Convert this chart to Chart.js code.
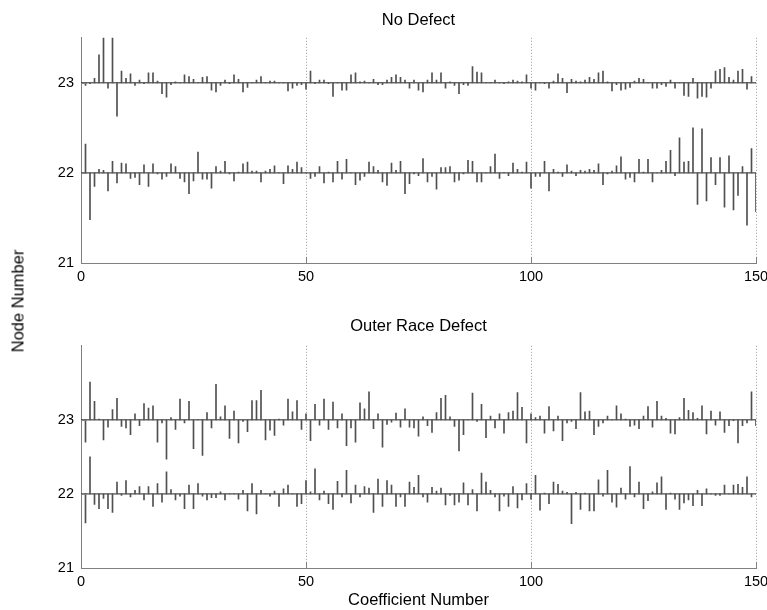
<!DOCTYPE html>
<html>
<head>
<meta charset="utf-8">
<script src="https://cdn.jsdelivr.net/npm/chart.js@4/dist/chart.umd.min.js"></script>
<style>
  body { margin: 0; background: #fff; width: 767px; height: 610px; position: relative; overflow: hidden; }
  canvas { position: absolute; left: 0; }
  #top { top: 0; }
  #bottom { top: 305px; }
  #ylabel {
    position: absolute; left: 18px; top: 301px;
    transform: translate(-50%, -50%) rotate(-90deg);
    font: 16.5px "Liberation Sans", Arial, sans-serif; color: #000; white-space: nowrap;
  }
</style>
</head>
<body>
<canvas id="top" width="767" height="290"></canvas>
<canvas id="bottom" width="767" height="305"></canvas>
<div id="ylabel">Node Number</div>
<script>
// coefficient index 1..150
const coefficients = Array.from({ length: 150 }, (_, i) => i + 1);
const xTicks = [0, 50, 100, 150];
const yTicks = [21, 22, 23];

// stem offsets from each node's baseline (node 23 and node 22)
const noDefect23 = [
  -0.03,-0.01,0.05,0.31,0.6,-0.06,0.6,-0.37,0.13,0.05,
  0.1,-0.03,0.03,-0.01,0.11,0.11,0.02,-0.12,-0.16,-0.02,
  0.01,0,0.09,0.07,0.04,0,0.06,0.07,-0.08,-0.1,
  -0.03,0.03,-0.01,0.09,0.04,-0.1,-0.05,0,0.03,0.07,
  0,0.02,0.02,0,0,-0.09,-0.06,-0.03,-0.02,-0.07,
  0.13,-0.01,0.03,0.03,-0.01,-0.15,0,-0.08,-0.08,0.09,
  0.11,0.01,0.02,0,0.04,-0.02,-0.02,0.03,0.06,0.09,
  0.06,0.03,-0.06,0.03,-0.08,-0.1,0.03,0.11,0.03,0.11,
  -0.06,0.01,-0.03,-0.12,-0.02,-0.03,0.18,0.12,0.11,0,
  0,0.03,0,-0.01,0.01,0.03,0.02,0.01,0.09,-0.06,
  -0.08,0,-0.01,-0.06,0.02,0.1,0.05,-0.11,0.04,0.02,
  0.01,0.03,0.06,0.04,0.11,0.13,0.01,-0.09,-0.02,-0.08,
  -0.07,-0.05,0.02,0.05,0.04,0,-0.06,-0.06,-0.02,-0.04,
  0.03,-0.06,0,-0.14,-0.15,0.05,-0.17,-0.15,-0.16,-0.06,
  0.13,0.15,0.17,0.06,0.03,0.13,0.15,-0.07,0.07,0
];
const noDefect22 = [
  0.32,-0.52,-0.15,0.04,0.03,-0.2,0.13,-0.11,0.11,0.1,
  -0.06,-0.05,-0.13,0.09,-0.15,0.1,-0.01,-0.07,-0.04,0.1,
  0.07,-0.06,-0.1,-0.23,-0.09,0.23,-0.07,-0.07,-0.17,0.07,
  0.02,0.13,-0.01,-0.09,0.01,0.1,0.12,0.02,0.02,-0.1,
  0.02,0.04,0.08,0,-0.12,0.08,0.04,0.12,0.06,0,
  -0.06,-0.04,0.07,-0.11,0.01,-0.1,0.13,-0.07,0.15,0,
  -0.13,-0.08,-0.04,0.12,0.07,0.03,-0.1,-0.14,0.11,0.03,
  0.13,-0.23,-0.12,-0.01,-0.03,0.16,-0.1,-0.04,-0.18,0.06,
  0.06,0.07,-0.1,-0.08,-0.01,0.14,0.13,-0.1,-0.1,0,
  0.07,0.21,-0.06,0,-0.03,0.11,0.04,0.01,0.12,-0.17,
  -0.04,-0.04,0.13,-0.2,0.04,0.01,-0.04,0.09,0.02,-0.03,
  0.03,0.02,0.04,0.03,0.1,-0.13,-0.01,0.02,0.08,0.18,
  -0.07,-0.05,-0.1,0.15,0.01,0.15,-0.1,0,0.03,0.13,
  0.25,-0.03,0.39,0.12,0.13,0.5,-0.35,0.49,-0.31,0.17,
  -0.13,0.17,-0.38,0.19,-0.41,-0.25,0.07,-0.58,0.27,-0.43
];
const outer23 = [
  -0.3,0.51,0.25,0.01,-0.27,-0.1,0.14,0.29,-0.09,-0.11,
  -0.2,0.08,-0.08,0.22,0.16,0.19,-0.3,-0.04,-0.53,0.03,
  -0.13,0.28,-0.04,0.25,-0.39,0,-0.48,0.1,-0.11,0.48,
  0.04,0.19,-0.25,0.12,-0.31,-0.02,-0.16,0.26,0.26,0.4,
  -0.27,-0.14,-0.21,0.01,-0.07,0.28,0.11,0.26,-0.13,0.08,
  -0.28,0.21,-0.07,0.28,-0.13,0.24,-0.11,0.08,-0.35,-0.11,
  -0.3,0.23,0.15,0.38,-0.12,0.08,-0.37,-0.06,-0.03,0.09,
  -0.1,0.15,-0.1,-0.11,-0.22,0.04,-0.08,-0.17,0.1,0.29,
  0.33,0.04,-0.09,-0.42,-0.2,0,0.36,-0.02,0.21,-0.24,
  0.05,-0.11,0.08,-0.18,0.1,0.12,0.37,0.17,-0.31,0.08,
  0.03,0.05,-0.18,0.18,-0.15,0.05,-0.28,-0.04,-0.02,-0.12,
  0.37,0.11,0.12,-0.2,-0.09,-0.04,0.05,0,0.19,0.08,
  0.01,-0.09,-0.07,-0.12,0.05,0.18,-0.1,0.25,0.05,0.02,
  -0.18,-0.19,0.03,0.29,0.13,0.1,0.02,0.19,-0.19,0.12,
  -0.07,0.11,-0.17,-0.08,-0.01,-0.31,-0.08,-0.04,0.38,-0.08
];
const outer22 = [
  -0.39,0.5,-0.14,-0.2,-0.06,-0.2,-0.25,0.16,-0.02,0.18,
  -0.04,0.05,0.1,-0.08,0.1,-0.17,0.14,-0.11,0.3,0.06,
  -0.08,-0.03,-0.2,0.12,-0.2,0.14,-0.03,-0.08,-0.05,-0.05,
  0.03,-0.08,0,0,-0.07,0.05,-0.23,0.14,-0.27,0.05,
  0,-0.03,0.04,-0.17,0.07,0.12,0,-0.17,-0.13,0.18,
  0.03,0.34,-0.08,0.04,-0.13,-0.21,0.17,-0.04,0.32,-0.12,
  0.12,-0.04,0.1,0.08,-0.25,0.2,-0.17,0.18,0.12,-0.17,
  -0.04,-0.17,0.16,0.09,0.25,-0.04,-0.11,0.09,0.04,0.08,
  -0.15,-0.02,-0.15,-0.11,0.15,-0.15,0.06,-0.23,0.28,0.16,
  0.05,-0.04,-0.23,-0.03,-0.17,0.1,-0.19,-0.08,0.14,-0.07,
  0.25,-0.22,0.01,-0.13,0.16,0.13,0.04,0.02,-0.4,0.02,
  -0.21,0.01,-0.23,-0.23,0.19,-0.03,0.32,-0.11,-0.18,0.08,
  -0.07,0.37,-0.04,0.16,-0.2,-0.09,0.03,0.15,0.23,-0.21,
  0.01,-0.07,-0.21,-0.12,-0.08,-0.16,0.05,-0.16,0.07,0,
  -0.02,-0.02,0.12,0,0.12,0.13,0.09,0.23,-0.04,0
];

const family = '"Liberation Sans", Arial, sans-serif';
const tickFont = { family, size: 14.5 };
const labelFont = { family, size: 16.5, weight: 'normal' };
const axisGray = '#808080';
const stemColor = '#505050';

// MATLAB style tick marks pointing into the plot
const innerTicks = {
  id: 'innerTicks',
  afterDatasetsDraw(chart) {
    const { ctx, chartArea: a, scales: { x, y } } = chart;
    ctx.save();
    ctx.strokeStyle = axisGray;
    ctx.lineWidth = 1;
    ctx.beginPath();
    xTicks.forEach(v => {
      const px = Math.round(x.getPixelForValue(v)) + 0.5;
      ctx.moveTo(px, a.bottom);
      ctx.lineTo(px, a.bottom - 6);
    });
    yTicks.forEach(v => {
      const py = Math.round(y.getPixelForValue(v)) + 0.5;
      ctx.moveTo(a.left, py);
      ctx.lineTo(a.left + 6, py);
    });
    ctx.stroke();
    ctx.restore();
  }
};

function stems(base, offsets) {
  return {
    type: 'bar',
    data: coefficients.map((c, i) => ({ x: c, y: [base, base + offsets[i]] })),
    backgroundColor: stemColor,
    borderWidth: 0,
    barThickness: 1,
    grouped: false
  };
}

function baseline(base) {
  return {
    type: 'line',
    data: [{ x: xTicks[0], y: base }, { x: xTicks[xTicks.length - 1], y: base }],
    borderColor: '#222',
    borderWidth: 1,
    pointRadius: 0
  };
}

function makeChart(id, title, rows, yMax, opts) {
  return new Chart(document.getElementById(id), {
    type: 'bar',
    data: {
      datasets: [
        stems(23, rows[23]),
        stems(22, rows[22]),
        baseline(23),
        baseline(22)
      ]
    },
    options: {
      responsive: false,
      animation: false,
      layout: { padding: 0 },
      plugins: {
        legend: { display: false },
        tooltip: { enabled: false },
        title: {
          display: true,
          text: title,
          fullSize: false,
          color: '#000',
          font: labelFont,
          padding: opts.titlePadding
        }
      },
      scales: {
        x: {
          type: 'linear',
          min: 0,
          max: 150,
          offset: false,
          afterBuildTicks: s => { s.ticks = xTicks.map(v => ({ value: v })); },
          afterFit: s => {
            s.height = opts.xHeight;
            s.paddingLeft = 0;
            s.paddingRight = 11; // let "150" run to the page edge like the original
          },
          ticks: { color: '#000', font: tickFont, padding: 5, maxRotation: 0 },
          grid: {
            offset: false,
            drawTicks: false,
            color: ctx => ctx.tick && ctx.tick.value === 0 ? 'rgba(0,0,0,0)' : '#9a9a9a'
          },
          // dash applies to the vertical grid lines, the axis line stays solid
          border: { color: axisGray, dash: [1, 2] },
          title: {
            display: !!opts.xTitle,
            text: opts.xTitle || '',
            color: '#000',
            font: labelFont,
            padding: 0
          }
        },
        y: {
          min: 21,
          max: yMax,
          afterBuildTicks: s => { s.ticks = yTicks.map(v => ({ value: v })); },
          afterFit: s => { s.width = 81; },
          ticks: { color: '#000', font: tickFont, padding: 7 },
          grid: { display: false, drawTicks: false },
          border: { color: axisGray }
        }
      }
    },
    plugins: [innerTicks]
  });
}

const topChart = makeChart('top', 'No Defect', { 23: noDefect23, 22: noDefect22 }, 23.5,
  { titlePadding: { top: 11, bottom: 7 }, xHeight: 27 });
const bottomChart = makeChart('bottom', 'Outer Race Defect', { 23: outer23, 22: outer22 }, 24,
  { titlePadding: { top: 12, bottom: 9 }, xHeight: 42, xTitle: 'Coefficient Number' });
</script>
</body>
</html>
